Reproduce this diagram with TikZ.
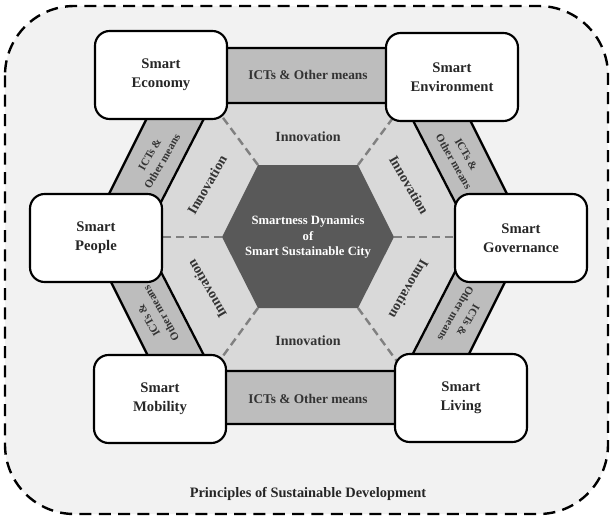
\documentclass[tikz,border=0pt]{standalone}
\usepackage{fontspec}
\setmainfont{Liberation Serif}

\definecolor{pagegray}{HTML}{F2F2F2}
\definecolor{bandgray}{HTML}{BDBDBD}
\definecolor{hexlight}{HTML}{D9D9D9}
\definecolor{hexdark}{HTML}{595959}

\begin{document}
\begin{tikzpicture}[
    x=0.75pt, y=-0.75pt,
    cityblock/.style = {draw, line width=1.6pt, rounded corners=11pt, fill=white,
                        minimum width=99pt, minimum height=66pt, align=center,
                        font=\fontsize{11}{14}\selectfont\bfseries, text=black!85},
    meanstext/.style = {align=center, font=\fontsize{8.3}{10.8}\selectfont\bfseries,
                        text=black!80, inner sep=1pt},
    meanswide/.style = {align=center, font=\fontsize{10}{12}\selectfont\bfseries,
                        text=black!80},
    innotext/.style  = {font=\fontsize{10.5}{12}\selectfont\bfseries, text=black!80},
    innodash/.style  = {draw=black!50, line width=1.8pt, dash pattern=on 6pt off 3.5pt},
    hexline/.style   = {draw=black, line width=1.7pt}
]

% =========================================================
% FRAME
% =========================================================
\useasboundingbox (0,0) rectangle (612,518);
\fill[white] (0,0) rectangle (612,518);
\draw[fill=pagegray, line width=1.8pt, dash pattern=on 9pt off 5.5pt,
      rounded corners=52pt] (5,6) rectangle (608,514);

% =========================================================
% HEXAGON CORNERS
% =========================================================
% outer edge of the bands
\coordinate (o1) at (182,48);  \coordinate (o2) at (434,48);
\coordinate (o3) at (528,236); \coordinate (o4) at (434,424);
\coordinate (o5) at (182,424); \coordinate (o6) at (88,236);
% light hexagon
\coordinate (i1) at (212,103); \coordinate (i2) at (404,103);
\coordinate (i3) at (473,237); \coordinate (i4) at (404,371);
\coordinate (i5) at (212,371); \coordinate (i6) at (143,237);
% dark hexagon
\coordinate (d1) at (258,165); \coordinate (d2) at (358,165);
\coordinate (d3) at (394,237); \coordinate (d4) at (358,308);
\coordinate (d5) at (258,308); \coordinate (d6) at (222,237);

% =========================================================
% BANDS AND HEXAGONS
% =========================================================
\path[hexline, fill=bandgray] (o1) -- (o2) -- (o3) -- (o4) -- (o5) -- (o6) -- cycle;
\path[hexline, fill=hexlight] (i1) -- (i2) -- (i3) -- (i4) -- (i5) -- (i6) -- cycle;

\foreach \k in {1,...,6}
  \draw[innodash] (d\k) -- (i\k);

\fill[hexdark] (d1) -- (d2) -- (d3) -- (d4) -- (d5) -- (d6) -- cycle;
\node[align=center, text=white, font=\fontsize{9.5}{11.5}\selectfont\bfseries]
  (core) at (308,237) {Smartness Dynamics\\of\\Smart Sustainable City};

% =========================================================
% LABELS IN THE BANDS
% =========================================================
\node[meanswide] (m12) at (308,75)  {ICTs \& Other means};
\node[meanswide] (m45) at (308,399) {ICTs \& Other means};
\node[meanstext, rotate=60]   (m61) at (156,158) {ICTs \&\\Other means};
\node[meanstext, rotate=-60]  (m23) at (460,158) {ICTs \&\\Other means};
\node[meanstext, rotate=120]  (m56) at (155,317) {ICTs \&\\Other means};
\node[meanstext, rotate=-120] (m34) at (462,317) {ICTs \&\\Other means};

% =========================================================
% INNOVATION
% =========================================================
\node[innotext]              (n1) at (308,137) {Innovation};
\node[innotext]              (n4) at (308,341) {Innovation};
\node[innotext, rotate=60]   (n6) at (207,185) {Innovation};
\node[innotext, rotate=-60]  (n2) at (409,185) {Innovation};
\node[innotext, rotate=120]  (n5) at (207,289) {Innovation};
\node[innotext, rotate=-120] (n3) at (409,289) {Innovation};

% =========================================================
% SMART DIMENSIONS
% =========================================================
\node[cityblock] (economy)     at (161,75)  {Smart\\Economy};
\node[cityblock] (environment) at (452,77)  {Smart\\Environment};
\node[cityblock] (people)      at (96,238)  {Smart\\People};
\node[cityblock] (governance)  at (521,238) {Smart\\Governance};
\node[cityblock] (mobility)    at (160,399) {Smart\\Mobility};
\node[cityblock] (living)      at (461,398) {Smart\\Living};

% =========================================================
% PRINCIPLES
% =========================================================
\node[font=\fontsize{10.8}{13}\selectfont\bfseries, text=black!85]
  (principles) at (308,494) {Principles of Sustainable Development};

\end{tikzpicture}
\end{document}
